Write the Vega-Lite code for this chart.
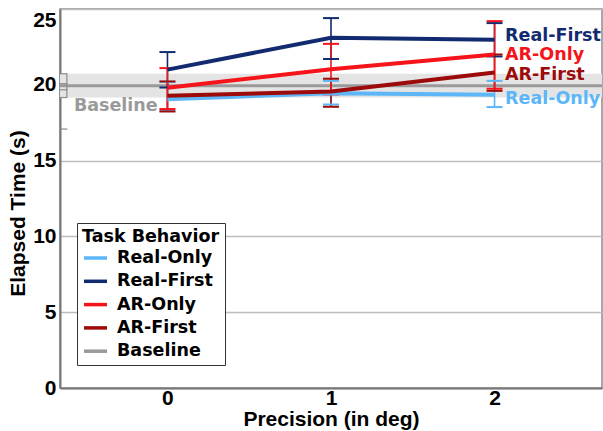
{
  "$schema": "https://vega.github.io/schema/vega-lite/v6.json",
  "width": 542,
  "height": 379,
  "autosize": {"type": "none"},
  "padding": {"left": 60, "top": 9, "right": 1, "bottom": 43},
  "background": "white",
  "config": {
    "view": {"stroke": "#8a8a8a", "strokeWidth": 1.5},
    "axis": {
      "labelFont": "Liberation Sans",
      "labelFontWeight": "bold",
      "labelFontSize": 21,
      "labelColor": "#000",
      "titleFont": "Liberation Sans",
      "titleFontWeight": "bold",
      "titleFontSize": 21,
      "titleColor": "#000",
      "domainColor": "#777",
      "domainWidth": 2,
      "ticks": false
    },
    "legend": {
      "titleFont": "DejaVu Sans",
      "titleFontWeight": "bold",
      "titleFontSize": 17.5,
      "titleColor": "#000",
      "labelFont": "DejaVu Sans",
      "labelFontWeight": "bold",
      "labelFontSize": 17.5,
      "labelColor": "#000",
      "symbolType": "stroke",
      "symbolSize": 529,
      "symbolStrokeWidth": 3.5,
      "symbolOpacity": 1,
      "labelOffset": 8,
      "rowPadding": 1.3,
      "titlePadding": -1,
      "padding": 5,
      "strokeColor": "#333",
      "fillColor": "white",
      "titleLimit": 300
    }
  },
  "datasets": {
    "stats": [
      {"series": "Real-Only", "precision": 0, "mean": 19.05, "lo": 18.3, "hi": 20.2},
      {"series": "Real-Only", "precision": 1, "mean": 19.45, "lo": 18.7, "hi": 20.26},
      {"series": "Real-Only", "precision": 2, "mean": 19.34, "lo": 18.53, "hi": 20.26},
      {"series": "Real-First", "precision": 0, "mean": 21.0, "lo": 19.82, "hi": 22.16},
      {"series": "Real-First", "precision": 1, "mean": 23.1, "lo": 21.7, "hi": 24.4},
      {"series": "Real-First", "precision": 2, "mean": 22.97, "lo": 21.87, "hi": 24.07},
      {"series": "AR-First", "precision": 0, "mean": 19.28, "lo": 18.24, "hi": 20.22},
      {"series": "AR-First", "precision": 1, "mean": 19.56, "lo": 18.55, "hi": 20.4},
      {"series": "AR-First", "precision": 2, "mean": 20.81, "lo": 19.6, "hi": 22.0},
      {"series": "AR-Only", "precision": 0, "mean": 19.8, "lo": 18.4, "hi": 21.1},
      {"series": "AR-Only", "precision": 1, "mean": 21.03, "lo": 19.36, "hi": 22.7},
      {"series": "AR-Only", "precision": 2, "mean": 22.0, "lo": 19.74, "hi": 24.2}
    ],
    "endLabels": [
      {"series": "Real-First", "precision": 2, "value": 23.19},
      {"series": "AR-Only", "precision": 2, "value": 21.98},
      {"series": "AR-First", "precision": 2, "value": 20.66},
      {"series": "Real-Only", "precision": 2, "value": 19.08}
    ],
    "baseline": [
      {"series": "Baseline", "mean": 19.93, "lo": 19.16, "hi": 20.73}
    ],
    "bracket": [
      {"precision": -0.615, "value": 20.73},
      {"precision": -0.615, "value": 20.07},
      {"precision": -0.615, "value": 19.67},
      {"precision": -0.615, "value": 19.16},
      {"precision": -0.615, "value": 17.08}
    ],
    "baselineLabel": [
      {"precision": -0.572, "value": 18.6, "text": "Baseline"}
    ]
  },
  "encoding": {
    "x": {
      "type": "quantitative",
      "scale": {"domain": [-0.657, 2.657], "nice": false, "zero": false}
    }
  },
  "layer": [
    {
      "data": {"name": "baseline"},
      "mark": {"type": "rect", "color": "#e4e4e4"},
      "encoding": {
        "x": {"value": 0},
        "x2": {"value": "width"},
        "y": {"field": "lo", "type": "quantitative", "scale": {"domain": [0, 25], "nice": false}},
        "y2": {"field": "hi"}
      }
    },
    {
      "data": {"name": "baseline"},
      "mark": {"type": "rule", "color": "#9a9a9a", "strokeWidth": 3},
      "encoding": {
        "y": {"field": "mean", "type": "quantitative"}
      }
    },
    {
      "data": {"name": "baseline"},
      "mark": {"type": "rule", "color": "#8a8a8a", "strokeWidth": 1.2},
      "encoding": {
        "x": {"datum": -0.615},
        "y": {"field": "lo", "type": "quantitative"},
        "y2": {"field": "hi"}
      }
    },
    {
      "data": {"name": "bracket"},
      "mark": {"type": "tick", "orient": "horizontal", "color": "#8a8a8a", "opacity": 1, "size": 8, "thickness": 1.2, "xOffset": -3.5},
      "encoding": {
        "x": {"field": "precision", "type": "quantitative"},
        "y": {"field": "value", "type": "quantitative"}
      }
    },
    {
      "data": {"name": "stats"},
      "mark": {"type": "rule", "strokeWidth": 1.6, "opacity": 1},
      "encoding": {
        "x": {"field": "precision", "type": "quantitative"},
        "y": {"field": "lo", "type": "quantitative"},
        "y2": {"field": "hi"},
        "color": {"field": "series", "type": "nominal", "legend": {"title": "Task Behavior", "orient": "none", "legendX": 17, "legendY": 214}}
      }
    },
    {
      "data": {"name": "stats"},
      "mark": {"type": "tick", "orient": "horizontal", "size": 16, "thickness": 2, "opacity": 1},
      "encoding": {
        "x": {"field": "precision", "type": "quantitative"},
        "y": {"field": "lo", "type": "quantitative"},
        "color": {"field": "series", "type": "nominal", "legend": {"title": "Task Behavior", "orient": "none", "legendX": 17, "legendY": 214}}
      }
    },
    {
      "data": {"name": "stats"},
      "mark": {"type": "tick", "orient": "horizontal", "size": 16, "thickness": 2, "opacity": 1},
      "encoding": {
        "x": {"field": "precision", "type": "quantitative"},
        "y": {"field": "hi", "type": "quantitative"},
        "color": {"field": "series", "type": "nominal", "legend": {"title": "Task Behavior", "orient": "none", "legendX": 17, "legendY": 214}}
      }
    },
    {
      "data": {"name": "stats"},
      "mark": {"type": "line", "strokeWidth": 4},
      "encoding": {
        "x": {
          "field": "precision",
          "type": "quantitative",
          "axis": {"values": [0, 1, 2], "grid": false, "title": "Precision (in deg)", "labelPadding": -1, "labelDx": -3, "titlePadding": 0, "format": "d"}
        },
        "y": {
          "field": "mean",
          "type": "quantitative",
          "axis": {
            "values": [0, 5, 10, 15, 20, 25],
            "grid": true,
            "gridColor": "#bdbdbd",
            "gridWidth": 1.5,
            "labelPadding": 4,
            "labelBaseline": {"condition": {"test": "datum.value == 25", "value": "top"}, "value": "middle"},
            "title": "Elapsed Time (s)",
            "titleAngle": 270,
            "titleAlign": "center",
            "titleBaseline": "middle",
            "titleX": -42,
            "titleY": 204
          }
        },
        "color": {
          "field": "series",
          "type": "nominal",
          "scale": {
            "domain": ["Real-Only", "Real-First", "AR-Only", "AR-First", "Baseline"],
            "range": ["#5cb6f7", "#122b70", "#f5141a", "#9c0a0a", "#9a9a9a"]
          },
          "legend": {"title": "Task Behavior", "orient": "none", "legendX": 17, "legendY": 214}
        }
      }
    },
    {
      "data": {"name": "endLabels"},
      "mark": {"type": "text", "align": "left", "baseline": "middle", "dx": 10.5, "font": "DejaVu Sans", "fontWeight": "bold", "fontSize": 17.5},
      "encoding": {
        "x": {"field": "precision", "type": "quantitative"},
        "y": {"field": "value", "type": "quantitative"},
        "text": {"field": "series"},
        "color": {"field": "series", "type": "nominal", "legend": {"title": "Task Behavior", "orient": "none", "legendX": 17, "legendY": 214}}
      }
    },
    {
      "data": {"name": "baselineLabel"},
      "mark": {"type": "text", "align": "left", "baseline": "middle", "font": "DejaVu Sans", "fontWeight": "bold", "fontSize": 17.5, "color": "#9a9a9a"},
      "encoding": {
        "x": {"field": "precision", "type": "quantitative"},
        "y": {"field": "value", "type": "quantitative"},
        "text": {"field": "text"}
      }
    }
  ]
}
